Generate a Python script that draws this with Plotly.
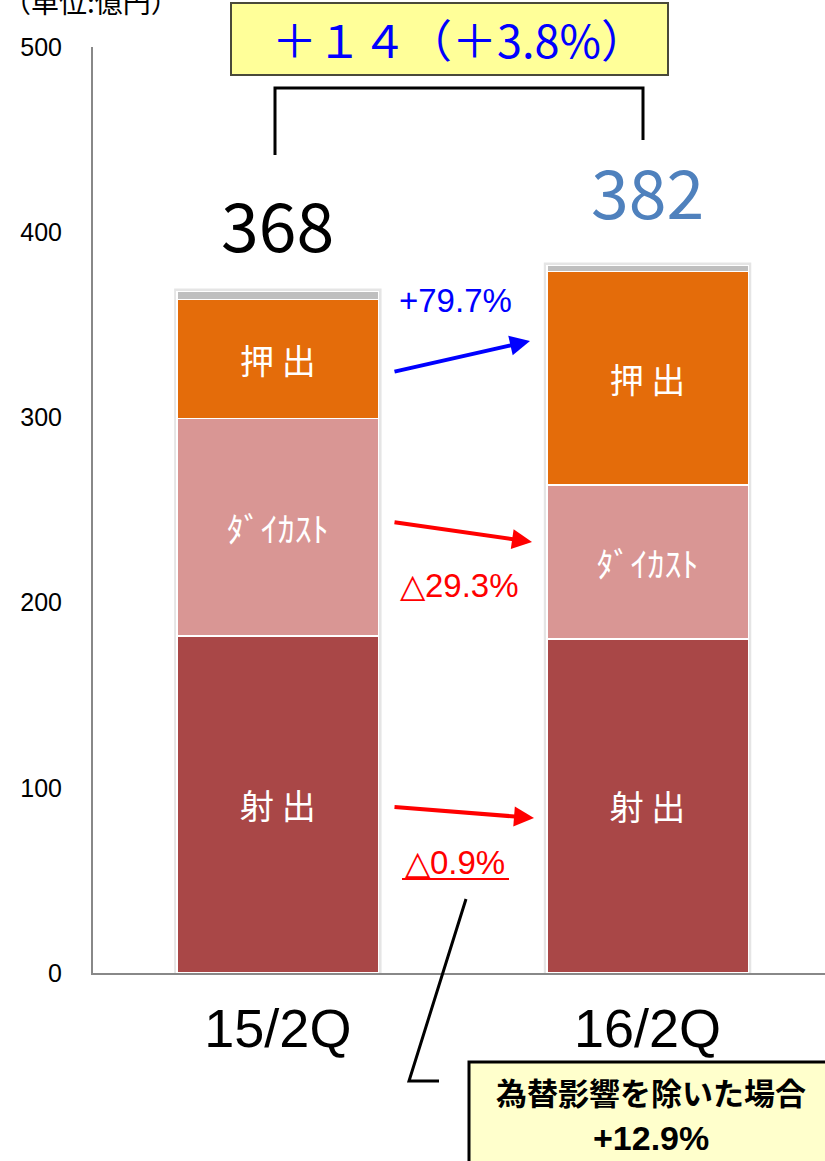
import plotly.graph_objects as go

# Sales by business segment (unit: 100 million yen)
periods = ["15/2Q", "16/2Q"]
segments = ["射出", "ダイカスト", "押出", "その他"]
segment_labels = ["射 出", "ﾀﾞｲｶｽﾄ", "押 出", ""]
injection = [182.0, 180.4]
diecast = [117.4, 83.0]
extrusion = [64.2, 115.4]
other = [4.4, 3.2]
totals = [368, 382]
total_colors = ["#000000", "#4F81BD"]

change_labels = ["+79.7%", "△29.3%", "△0.9%"]
diff_label = "＋１４（＋3.8%）"
fx_note = "為替影響を除いた場合"
fx_value = "+12.9%"

colors = ["#A94747", "#D99694", "#E46C0A", "#BFBFBF"]

W, H = 825, 1161
L, T, B = 93, 47, 188
PW, PH = W - L, H - T - B

CJK = "Noto Sans CJK JP"
SANS = "Liberation Sans, Arial, sans-serif"


def xp(px):
    return (px - L) / PW


def yp(py):
    return (T + PH - py) / PH


fig = go.Figure()
series = [injection, diecast, extrusion, other]
bar_width = 0.545
for name, vals, col, lab in zip(segments, series, colors, segment_labels):
    fig.add_trace(go.Bar(
        x=periods, y=vals, name=name, width=bar_width,
        marker=dict(color=col, line=dict(color="white", width=1.5)),
        text=[lab] * len(periods), textposition="inside",
        insidetextanchor="middle", textangle=0, constraintext="none",
        textfont=dict(family=CJK, size=34, color="white"),
        hoverinfo="skip",
    ))

shapes = []
# soft shadow around each stacked bar
for i, tot in enumerate(totals):
    shapes.append(dict(type="rect", xref="x", yref="y", layer="below",
                       x0=i - bar_width / 2, x1=i + bar_width / 2, y0=0,
                       y1=sum(s[i] for s in series),
                       line=dict(color="rgba(0,0,0,0.10)", width=6),
                       fillcolor="rgba(0,0,0,0)"))

# bracket joining the two totals
shapes.append(dict(type="path", xref="paper", yref="paper",
                   path=f"M {xp(275)},{yp(155)} L {xp(275)},{yp(88)} "
                        f"L {xp(643)},{yp(88)} L {xp(643)},{yp(140)}",
                   line=dict(color="black", width=3)))
# yellow box with the overall change
shapes.append(dict(type="rect", xref="paper", yref="paper",
                   x0=xp(231), x1=xp(668), y0=yp(75), y1=yp(3),
                   fillcolor="#FFFF99", line=dict(color="#4A4A3A", width=2)))
# leader line to the FX note
shapes.append(dict(type="path", xref="paper", yref="paper",
                   path=f"M {xp(466)},{yp(899)} L {xp(409)},{yp(1081)} L {xp(439)},{yp(1081)}",
                   line=dict(color="black", width=3)))
# FX note box
shapes.append(dict(type="rect", xref="paper", yref="paper",
                   x0=xp(469), x1=xp(835), y0=yp(1175), y1=yp(1062),
                   fillcolor="#FFFFCC", line=dict(color="black", width=3)))
# underline of the injection change
shapes.append(dict(type="line", xref="paper", yref="paper",
                   x0=xp(402), x1=xp(509), y0=yp(879), y1=yp(879),
                   line=dict(color="#FF0000", width=2)))

ann = []
# totals above bars
offsets = [37, 41]
for i, (tot, col) in enumerate(zip(totals, total_colors)):
    ann.append(dict(x=periods[i], y=tot + offsets[i], xref="x", yref="y",
                    text=str(tot), showarrow=False, xanchor="center", yanchor="middle",
                    font=dict(family=CJK, size=68, color=col)))

ann.append(dict(x=xp(459), y=yp(38), xref="paper", yref="paper", text=diff_label,
                showarrow=False, xanchor="center", yanchor="middle",
                font=dict(family=CJK, size=45, color="#0000FF")))

# segment change arrows
arrows = [((393, 372), (530, 341), "#0000FF"),
          ((393, 522), (532, 542), "#FF0000"),
          ((393, 807), (534, 818), "#FF0000")]
for (tx, ty), (hx, hy), col in arrows:
    ann.append(dict(x=xp(hx), y=yp(hy), xref="paper", yref="paper",
                    ax=tx - hx, ay=ty - hy, axref="pixel", ayref="pixel",
                    text="", showarrow=True, arrowhead=2, arrowsize=1,
                    arrowwidth=4, arrowcolor=col))

label_pos = [(455, 300, "#0000FF"), (459, 585, "#FF0000"), (455, 862, "#FF0000")]
for (cx, cy, col), txt in zip(label_pos, change_labels):
    ann.append(dict(x=xp(cx), y=yp(cy), xref="paper", yref="paper", text=txt,
                    showarrow=False, xanchor="center", yanchor="middle",
                    font=dict(family=SANS, size=33, color=col)))

ann.append(dict(x=xp(651), y=yp(1091), xref="paper", yref="paper",
                text=f"<b>{fx_note}</b>", showarrow=False,
                xanchor="center", yanchor="middle",
                font=dict(family=CJK, size=31, color="black")))
ann.append(dict(x=xp(651), y=yp(1138), xref="paper", yref="paper",
                text=f"<b>{fx_value}</b>", showarrow=False,
                xanchor="center", yanchor="middle",
                font=dict(family=SANS, size=34, color="black")))

ann.append(dict(x=xp(1), y=yp(1), xref="paper", yref="paper", text="（単位:億円）",
                xanchor="left", yanchor="middle", showarrow=False,
                font=dict(family=CJK, size=28, color="black")))

fig.update_layout(
    width=W, height=H, barmode="stack", showlegend=False,
    margin=dict(l=L, r=0, t=T, b=B),
    paper_bgcolor="white", plot_bgcolor="white",
    shapes=shapes, annotations=ann,
    xaxis=dict(type="category", range=[-0.5, 1.48], showline=True,
               linecolor="#888888", linewidth=2, showgrid=False, ticks="",
               tickfont=dict(family=SANS, size=54, color="black"),
               ticklabelstandoff=7),
    yaxis=dict(range=[0, 500], tickvals=[0, 100, 200, 300, 400, 500],
               showline=True, linecolor="#888888", linewidth=2, showgrid=False,
               ticks="", zeroline=False,
               tickfont=dict(family=SANS, size=25, color="black"),
               ticklabelstandoff=24),
)

fig.write_html("out.html")
